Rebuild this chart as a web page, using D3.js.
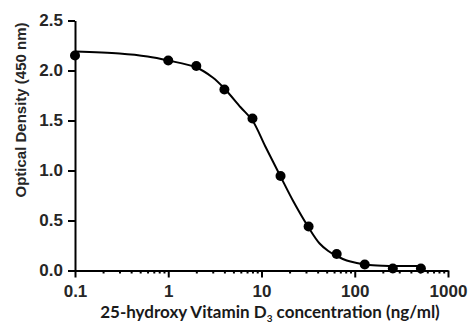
<!DOCTYPE html>
<html><head><meta charset="utf-8">
<script src="https://cdn.jsdelivr.net/npm/d3@7"></script>
<style>
html,body{margin:0;padding:0;background:#fff;}
svg{display:block;}
</style></head>
<body>
<svg id="chart" width="469" height="326"></svg>
<script>
// Measured standards (concentration ng/ml, OD 450 nm)
const concentrations = [0.1, 1, 2, 4, 8, 16, 32, 64, 128, 256, 512];
const opticalDensity = [2.15, 2.10, 2.045, 1.81, 1.52, 0.945, 0.44, 0.165, 0.06, 0.02, 0.02];
// Fitted curve
const curveX = [0.1, 0.3, 0.6, 1, 2, 3, 4, 6, 8, 11, 16, 22, 32, 42, 52, 64, 82, 105, 134, 200, 300, 512];
const curveY = [2.19, 2.17, 2.14, 2.10, 2.03, 1.93, 1.82, 1.63, 1.50, 1.24, 0.94, 0.69, 0.43, 0.27, 0.195, 0.145, 0.10, 0.075, 0.058, 0.048, 0.045, 0.045];
// Axis ticks
const xMajorTicks = [0.1, 1, 10, 100, 1000];
const xTickLabels = ["0.1", "1", "10", "100", "1000"];
const yTicks = [0, 0.5, 1.0, 1.5, 2.0, 2.5];
const yTickLabels = ["0.0", "0.5", "1.0", "1.5", "2.0", "2.5"];
const yTitle = "Optical Density (450 nm)";

const svg = d3.select("#chart");
const x = d3.scaleLog().domain([0.1, 1000]).range([75, 448]);
const y = d3.scaleLinear().domain([0, 2.5]).range([270.5, 20.5]);

const xMinorTicks = [];
for (let d = 0.1; d < 1000; d *= 10) {
  for (let k = 2; k <= 9; k++) xMinorTicks.push(+(d * k).toPrecision(3));
}

const tickFont = "'Liberation Sans', Arial, Helvetica, sans-serif";

// X minor ticks
const gxMinor = svg.append("g").attr("transform", `translate(0,${y(0)})`)
  .call(d3.axisBottom(x).tickValues(xMinorTicks).tickSize(3).tickSizeOuter(0).tickFormat(""));
gxMinor.select(".domain").remove();
gxMinor.selectAll(".tick line").attr("stroke", "#000").attr("stroke-width", 2);

// X axis
const gx = svg.append("g").attr("transform", `translate(0,${y(0)})`)
  .call(d3.axisBottom(x).tickValues(xMajorTicks).tickSize(7).tickSizeOuter(0).tickPadding(7)
    .tickFormat((d, i) => xTickLabels[i]));
gx.select(".domain").attr("stroke", "#000").attr("stroke-width", 2);
gx.selectAll(".tick line").attr("stroke", "#000").attr("stroke-width", 2);
gx.selectAll(".tick text").attr("font-family", tickFont).attr("font-weight", "bold")
  .attr("font-size", 17).attr("fill", "#262626");

// Y axis
const gy = svg.append("g").attr("transform", `translate(${x(0.1)},0)`)
  .call(d3.axisLeft(y).tickValues(yTicks).tickSize(7).tickSizeOuter(0).tickPadding(5)
    .tickFormat((d, i) => yTickLabels[i]));
gy.select(".domain").attr("stroke", "#000").attr("stroke-width", 2);
gy.selectAll(".tick line").attr("stroke", "#000").attr("stroke-width", 2);
gy.selectAll(".tick text").attr("font-family", tickFont).attr("font-weight", "bold")
  .attr("font-size", 17).attr("fill", "#262626");

// Y title
svg.append("text")
  .attr("transform", "translate(26,110) rotate(-90)")
  .attr("text-anchor", "middle")
  .attr("font-family", tickFont).attr("font-weight", "bold").attr("font-size", 15)
  .attr("fill", "#262626")
  .text(yTitle);

// X title
const xt = svg.append("text")
  .attr("x", 270).attr("y", 318)
  .attr("text-anchor", "middle")
  .attr("font-family", "Lato, 'Open Sans', sans-serif").attr("font-weight", "bold")
  .attr("font-size", 17).attr("fill", "#1a1a1a");
xt.append("tspan").text("25-hydroxy Vitamin D");
xt.append("tspan").attr("font-size", 10).attr("dy", 4).text("3");
xt.append("tspan").attr("dy", -4).text(" concentration (ng/ml)");

// Curve
const curvePts = curveX.map((c, i) => [x(c), y(curveY[i])]);
svg.append("path")
  .attr("d", d3.line().curve(d3.curveCatmullRom.alpha(0.5))(curvePts))
  .attr("fill", "none").attr("stroke", "#000").attr("stroke-width", 2);

// Points
svg.append("g").selectAll("circle")
  .data(concentrations.map((c, i) => ({c, od: opticalDensity[i]})))
  .join("circle")
  .attr("cx", d => x(d.c)).attr("cy", d => y(d.od)).attr("r", 5)
  .attr("fill", "#000");
</script>
</body></html>
